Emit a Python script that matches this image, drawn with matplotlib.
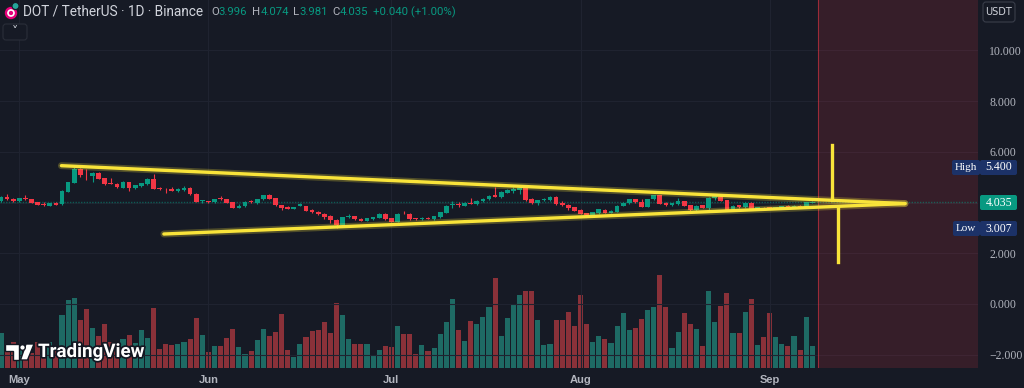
import numpy as np
import matplotlib.pyplot as plt
from matplotlib.patches import Circle, FancyBboxPatch, Polygon
import matplotlib.patheffects as pe

# --- data (DOT/USDT daily, 2025-04-28 .. 2025-09-08) ---
start_day = np.datetime64("2025-04-28")
month_starts = ["2025-05-01", "2025-06-01", "2025-07-01", "2025-08-01", "2025-09-01"]
month_labels = ["May", "Jun", "Jul", "Aug", "Sep"]

opens = [4.06, 4.23, 4.16, 4.05, 4.17, 4.14, 4.02, 3.93, 3.88, 3.99,
         3.93, 4.43, 4.79, 5.33, 5.10, 5.05, 5.18, 4.96, 4.76, 4.75,
         4.59, 4.81, 4.56, 4.65, 4.72, 4.93, 4.58, 4.54, 4.54, 4.46,
         4.50, 4.58, 4.34, 4.06, 4.05, 4.04, 4.18, 4.13, 4.02, 3.80,
         3.85, 4.08, 3.98, 4.13, 4.29, 4.18, 3.90, 3.83, 3.75, 3.88,
         3.85, 3.72, 3.64, 3.56, 3.46, 3.33, 3.12, 3.42, 3.46, 3.37,
         3.29, 3.34, 3.41, 3.55, 3.39, 3.25, 3.59, 3.55, 3.38, 3.34,
         3.41, 3.35, 3.43, 3.59, 3.90, 3.96, 3.87, 4.00, 3.94, 4.05,
         4.13, 4.29, 4.21, 4.39, 4.47, 4.50, 4.58, 4.13, 3.97, 4.09,
         4.10, 4.23, 4.00, 3.92, 3.81, 3.71, 3.58, 3.51, 3.58, 3.71,
         3.60, 3.63, 3.87, 3.97, 4.13, 4.04, 3.83, 4.13, 4.29, 4.00,
         3.90, 3.94, 4.05, 3.90, 3.69, 3.89, 3.79, 4.18, 4.23, 4.10,
         3.73, 3.89, 3.81, 4.00, 3.76, 3.79, 3.81, 3.75, 3.79, 3.87,
         3.81, 3.87, 3.84, 3.996]
closes = [4.23, 4.13, 4.05, 4.18, 4.14, 4.00, 3.92, 3.90, 3.97, 3.92,
          4.46, 4.80, 5.33, 5.09, 5.07, 5.18, 4.94, 4.73, 4.73, 4.60,
          4.80, 4.56, 4.68, 4.76, 4.93, 4.55, 4.54, 4.52, 4.46, 4.54,
          4.59, 4.33, 4.04, 4.10, 4.02, 4.14, 4.13, 4.00, 3.80, 3.88,
          4.04, 4.02, 4.14, 4.29, 4.16, 3.89, 3.80, 3.75, 3.83, 3.93,
          3.68, 3.62, 3.54, 3.42, 3.31, 3.12, 3.42, 3.47, 3.34, 3.29,
          3.38, 3.43, 3.55, 3.35, 3.25, 3.55, 3.57, 3.34, 3.34, 3.41,
          3.37, 3.46, 3.62, 3.88, 3.93, 3.92, 4.00, 3.94, 4.08, 4.16,
          4.26, 4.23, 4.42, 4.50, 4.52, 4.58, 4.10, 3.97, 4.10, 4.16,
          4.23, 3.93, 3.89, 3.77, 3.68, 3.55, 3.51, 3.62, 3.73, 3.60,
          3.68, 3.87, 4.00, 4.13, 4.02, 3.84, 4.13, 4.29, 3.96, 3.89,
          3.97, 4.05, 3.88, 3.69, 3.87, 3.79, 4.19, 4.26, 4.08, 3.71,
          3.87, 3.81, 4.00, 3.76, 3.81, 3.76, 3.75, 3.81, 3.85, 3.81,
          3.87, 3.83, 4.01, 4.035]
highs = [4.26, 4.34, 4.18, 4.19, 4.30, 4.16, 4.03, 4.02, 3.99, 4.01,
         4.48, 4.82, 5.40, 5.36, 5.31, 5.21, 5.22, 4.97, 4.95, 4.77,
         4.87, 4.83, 4.70, 4.78, 4.95, 5.13, 4.62, 4.56, 4.60, 4.56,
         4.66, 4.63, 4.36, 4.12, 4.08, 4.16, 4.24, 4.16, 4.04, 3.94,
         4.05, 4.11, 4.15, 4.31, 4.33, 4.20, 3.92, 3.85, 3.84, 4.00,
         3.88, 3.76, 3.66, 3.59, 3.50, 3.35, 3.44, 3.56, 3.49, 3.39,
         3.40, 3.45, 3.57, 3.57, 3.41, 3.57, 3.68, 3.57, 3.40, 3.43,
         3.43, 3.48, 3.64, 3.90, 4.05, 4.03, 4.02, 4.19, 4.10, 4.19,
         4.29, 4.63, 4.44, 4.52, 4.60, 4.62, 4.62, 4.18, 4.12, 4.18,
         4.25, 4.25, 4.08, 3.94, 3.83, 3.73, 3.60, 3.64, 3.75, 3.73,
         3.70, 3.89, 4.02, 4.15, 4.15, 4.14, 4.15, 4.31, 4.31, 4.02,
         4.00, 4.20, 4.07, 3.92, 3.89, 3.91, 4.21, 4.28, 4.25, 4.12,
         3.89, 3.91, 4.02, 4.02, 3.84, 3.81, 3.84, 3.83, 3.87, 3.92,
         3.89, 3.89, 4.03, 4.074]
lows = [4.04, 4.11, 4.03, 4.04, 4.10, 3.98, 3.91, 3.88, 3.85, 3.90,
        3.91, 4.41, 4.77, 5.00, 4.89, 4.83, 4.92, 4.70, 4.72, 4.58,
        4.56, 4.45, 4.54, 4.63, 4.70, 4.53, 4.50, 4.37, 4.44, 4.43,
        4.47, 4.31, 4.02, 3.99, 3.99, 4.00, 4.12, 3.98, 3.77, 3.79,
        3.83, 4.00, 3.96, 4.11, 4.14, 3.87, 3.72, 3.73, 3.73, 3.86,
        3.66, 3.60, 3.52, 3.35, 3.20, 3.007, 3.10, 3.40, 3.32, 3.27,
        3.27, 3.32, 3.39, 3.33, 3.23, 3.23, 3.55, 3.32, 3.32, 3.32,
        3.35, 3.33, 3.41, 3.57, 3.80, 3.84, 3.85, 3.93, 3.92, 4.03,
        4.11, 4.21, 4.19, 4.37, 4.36, 4.33, 4.05, 3.96, 3.90, 4.07,
        4.08, 3.91, 3.88, 3.69, 3.66, 3.53, 3.49, 3.49, 3.56, 3.58,
        3.58, 3.61, 3.85, 3.95, 4.00, 3.82, 3.81, 4.11, 3.94, 3.87,
        3.88, 3.92, 3.86, 3.67, 3.67, 3.77, 3.72, 4.10, 4.06, 3.69,
        3.71, 3.79, 3.79, 3.74, 3.74, 3.74, 3.73, 3.73, 3.77, 3.79,
        3.79, 3.81, 3.82, 3.981]
volumes = [10.4, 7.2, 7.7, 6.9, 5.8, 4.4, 7.9, 5.4, 7.7, 5.8,
           15.8, 20.5, 21.0, 14.3, 17.6, 11.9, 9.6, 13.2, 7.9, 6.8,
           8.6, 9.9, 7.5, 11.4, 8.9, 18.0, 5.6, 7.1, 6.9, 7.1,
           7.7, 8.7, 15.1, 9.8, 4.8, 6.6, 6.6, 9.1, 11.8, 6.4,
           4.2, 5.1, 8.3, 11.8, 9.6, 10.8, 16.2, 5.4, 3.3, 7.2,
           9.4, 11.2, 11.4, 13.8, 10.6, 19.5, 15.8, 8.6, 7.1, 7.3,
           7.3, 3.6, 5.3, 6.6, 6.3, 12.5, 10.3, 10.3, 4.2, 6.9,
           5.2, 6.1, 10.3, 13.8, 20.6, 11.4, 8.2, 14.1, 13.3, 15.4,
           18.3, 27.0, 9.6, 15.0, 19.3, 21.8, 23.0, 23.0, 14.4, 6.9,
           7.1, 14.5, 14.5, 16.8, 12.5, 21.8, 13.1, 7.8, 9.6, 8.7,
           7.6, 12.5, 16.6, 11.4, 12.0, 14.7, 17.3, 18.3, 27.9, 18.3,
           6.0, 10.8, 16.6, 13.1, 11.6, 6.6, 23.2, 13.8, 18.7, 22.6,
           10.6, 10.4, 16.8, 20.6, 6.9, 9.2, 16.4, 9.3, 7.2, 6.5,
           9.6, 5.4, 15.2, 6.6]

# drawings on the chart (day index, price)
upper_line = ([9.9, 148.2], [5.455, 3.96])
lower_line = ([26.7, 148.2], [2.76, 3.96])
vert_up = (136.2, [6.27, 4.10])
vert_down = (137.2, [3.83, 1.66])
future_start = 133.9
last_price, high_price, low_price = 4.035, 5.400, 3.007

price_ticks = [-2, 0, 2, 4, 6, 8, 10]

# --- style ---
bg = "#161a25"
up_col, down_col = "#089981", "#f23645"
vol_up, vol_down = "#1e6a64", "#8a3139"
grid_col = "#1f2330"
txt_col = "#b2b5be"
yellow = "#f9e43a"
W, H = 1024, 388

x = np.arange(len(closes))
o = np.array(opens); c = np.array(closes)
is_up = c >= o
month_idx = [(np.datetime64(m) - start_day).astype(int) for m in month_starts]

fig = plt.figure(figsize=(W / 100, H / 100), dpi=100, facecolor=bg)
ax = fig.add_axes([0, 20 / H, 978 / W, 368 / H])
axv = ax.twinx()
ax.set_zorder(axv.get_zorder() + 1)
ax.patch.set_visible(False)
axv.set_facecolor(bg)

xmin, xmax = -1 / 6.1, 977 / 6.1
ax.set_xlim(xmin, xmax)
ax.set_ylim(-2.525, 11.99)
axv.set_ylim(0, 110.4)

# grid
for p in price_ticks:
    ax.axhline(p, color=grid_col, lw=0.8, zorder=0)
for m in month_idx:
    ax.axvline(m, color=grid_col, lw=0.8, zorder=0)

# volume
axv.bar(x, volumes, width=0.85, color=np.where(is_up, vol_up, vol_down), zorder=1)
axv.set_yticks([])
axv.tick_params(length=0)
for s in axv.spines.values():
    s.set_visible(False)

# future zone
ax.axvspan(future_start, xmax, color=down_col, alpha=0.15, lw=0, zorder=1)
ax.axvline(future_start, color=down_col, alpha=0.55, lw=0.8, zorder=1)

# current price dotted line
ax.axhline(last_price, color=up_col, alpha=0.5, lw=1, ls=(0, (1, 1)), zorder=2)

# candles
cols = np.where(is_up, up_col, down_col)
ax.vlines(x, lows, highs, color=cols, lw=0.8, zorder=3)
body = np.maximum(np.abs(c - o), 0.025)
ax.bar(x, body, bottom=np.minimum(o, c), width=0.78, color=cols, zorder=4)

# triangle drawing
for xs, ys in [upper_line, lower_line]:
    ax.plot(xs, ys, color=yellow, lw=5, alpha=0.25, solid_capstyle="round", zorder=5)
    ax.plot(xs, ys, color=yellow, lw=2.4, solid_capstyle="round", zorder=6)
for xv, ys in [vert_up, vert_down]:
    ax.plot([xv, xv], ys, color=yellow, lw=2.4, zorder=6)

# axes ticks
ax.yaxis.tick_right()
ax.set_yticks(price_ticks)
ax.set_yticklabels(["" if p == 4 else f"{p:.3f}".replace("-", "\u2212") for p in price_ticks])
ax.set_xticks(month_idx)
ax.set_xticklabels(month_labels)
ax.tick_params(axis="y", length=0, pad=8, colors=txt_col, labelsize=8.5)
ax.tick_params(axis="x", length=0, pad=5, colors=txt_col, labelsize=8)
for lab in ax.get_yticklabels():
    lab.set_family("Liberation Serif")
for lab in ax.get_xticklabels():
    lab.set_family("Liberation Sans")
    lab.set_fontweight("bold")
for s in ax.spines.values():
    s.set_visible(False)


def box(x0, y0, w, h, fc, ec="none", r=0.02, z=10):
    p = FancyBboxPatch((x0 / 100, (H - y0 - h) / 100), w / 100, h / 100,
                       boxstyle=f"round,pad=0,rounding_size={r}", fc=fc, ec=ec, lw=0.8,
                       transform=fig.dpi_scale_trans, zorder=z)
    fig.add_artist(p)


def ftext(px, py, s, **kw):
    kw.setdefault("va", "center")
    kw.setdefault("zorder", 11)
    fig.text(px / W, 1 - py / H, s, **kw)


# price labels on the right scale
navy = "#1c3268"
box(952, 160, 28, 15, navy)
box(980, 160, 37, 15, navy)
ftext(966, 167.5, "High", ha="center", color="white", fontsize=8, family="Liberation Serif")
ftext(999, 167.5, f"{high_price:.3f}", ha="center", color="white", fontsize=8.5, family="Liberation Serif")
box(980, 195, 37, 15, up_col)
ftext(999, 202.5, f"{last_price:.3f}", ha="center", color="white", fontsize=8.5, family="Liberation Serif")
box(953, 221, 27, 15, navy)
box(980, 221, 37, 15, navy)
ftext(966, 228.5, "Low", ha="center", color="white", fontsize=8, family="Liberation Serif")
ftext(999, 228.5, f"{low_price:.3f}", ha="center", color="white", fontsize=8.5, family="Liberation Serif")

# currency button
box(983, 2, 32, 20, bg, ec="#3a3e4a", r=0.03)
ftext(999, 12, "USDT", ha="center", color="#d1d4dc", fontsize=7)

# header
fig.add_artist(Circle((11 / 100, (H - 13) / 100), 0.062, transform=fig.dpi_scale_trans,
                      fc="#e6007a", ec="none", zorder=11))
fig.add_artist(Circle((11 / 100, (H - 13) / 100), 0.03, transform=fig.dpi_scale_trans,
                      fc="none", ec="white", lw=1.2, zorder=12))
fig.add_artist(Circle((15.5 / 100, (H - 6) / 100), 0.035, transform=fig.dpi_scale_trans,
                      fc="#26a69a", ec=bg, lw=0.8, zorder=12))
ftext(23, 12, "DOT / TetherUS \u00b7 1D \u00b7 Binance", color="#d1d4dc", fontsize=9.8, family="Roboto")
ohlc = [(211, "O", txt_col), (218, "3.996", up_col), (252, "H", txt_col), (261, "4.074", up_col),
        (293, "L", txt_col), (299, "3.981", up_col), (332, "C", txt_col), (340, "4.035", up_col),
        (373, "+0.040 (+1.00%)", up_col)]
for px_, s, col in ohlc:
    ftext(px_, 12, s, color=col, fontsize=8.2, family="Roboto")
box(3, 24, 24, 16, bg, ec="#2a2e39", r=0.03)
ftext(15, 31, "\u02c5", ha="center", color="#d1d4dc", fontsize=9)

# TradingView watermark
outline = [pe.withStroke(linewidth=2.5, foreground="#131722")]
tv_parts = [
    [(5, 344), (19, 344), (19, 360), (12.5, 360), (12.5, 350.5), (5, 350.5)],
    [(26, 344), (34, 344), (27.5, 360), (20.5, 360)],
]
for pts in tv_parts:
    fig.add_artist(Polygon([(a / 100, (H - b) / 100) for a, b in pts], closed=True,
                           transform=fig.dpi_scale_trans, fc="white", ec="#131722", lw=1, zorder=12))
fig.add_artist(Circle((22.5 / 100, (H - 347.5) / 100), 0.028, transform=fig.dpi_scale_trans,
                      fc="white", ec="#131722", lw=1, zorder=12))
fig.text(38 / W, 1 - 352 / H, "TradingView", color="white", fontsize=13.5, fontweight="bold",
         family="Roboto", va="center", ha="left", path_effects=outline, zorder=12)

fig.savefig("out.png", dpi=100, facecolor=bg)
